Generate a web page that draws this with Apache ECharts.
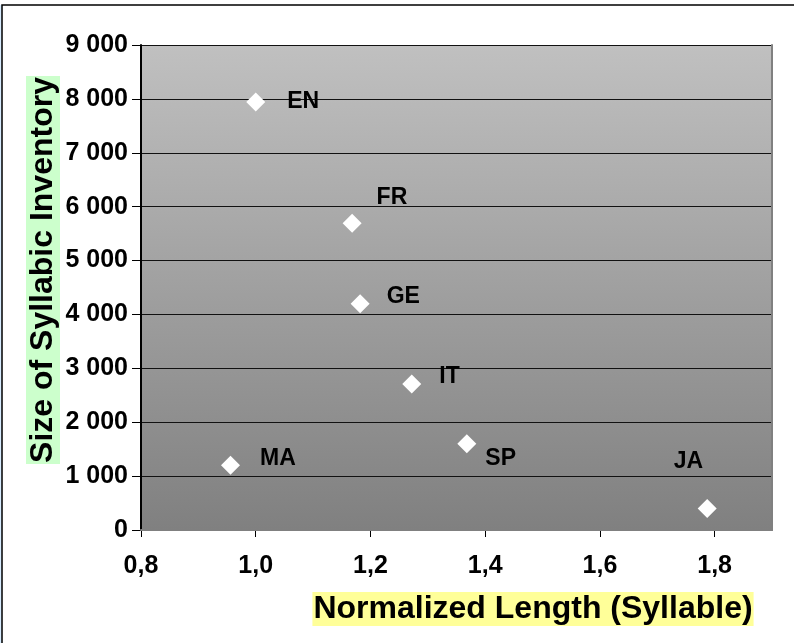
<!DOCTYPE html>
<html>
<head>
<meta charset="utf-8">
<script src="https://cdn.jsdelivr.net/npm/echarts@6/dist/echarts.min.js"></script>
<style>
html, body { margin: 0; padding: 0; background: #fff; }
#syllable_chart { width: 794px; height: 643px; }
</style>
</head>
<body>
<div id="syllable_chart"></div>
<script>
var languages = ['EN', 'FR', 'GE', 'IT', 'SP', 'MA', 'JA'];
var lengths = [1.0, 1.168, 1.182, 1.272, 1.368, 0.956, 1.787];
var inventory = [7940, 5690, 4200, 2710, 1600, 1200, 400];
var xTicks = [0.8, 1.0, 1.2, 1.4, 1.6, 1.8];
var yTicks = [0, 1000, 2000, 3000, 4000, 5000, 6000, 7000, 8000, 9000];
var xTitle = 'Normalized Length (Syllable)';
var yTitle = 'Size of Syllabic Inventory';

// where each data label sits next to its marker (style only)
var labelOffset = {
        EN: [17, 0],
        FR: [10, -26],
        GE: [12, -7],
        IT: [13, -7],
        SP: [4, 15],
        MA: [15, -7],
        JA: [-48, -47]
};

var font = '"Liberation Sans", Arial, sans-serif';

window.onload = function(){
        syllable_chart();
};

function syllable_chart(){

        var chart = echarts.init(document.getElementById('syllable_chart'));

        var points = new Array();
        for (var i = 0; i < languages.length; i++) {
                points.push({
                        name: languages[i],
                        value: [lengths[i], inventory[i]],
                        label: { offset: labelOffset[languages[i]] }
                });
        }

        var option = {
                animation: false,
                textStyle: { fontFamily: font },
                grid: {
                        left: 141, top: 45, right: 22, bottom: 113,
                        show: true,
                        borderWidth: 0,
                        backgroundColor: new echarts.graphic.LinearGradient(0, 0, 0, 1, [
                                { offset: 0, color: '#c0c0c0' },
                                { offset: 1, color: '#808080' }
                        ])
                },
                xAxis: [{
                        type: 'value',
                        position: 'bottom',
                        min: 0.8, max: 1.9, interval: 0.2,
                        axisLine: { show: true, lineStyle: { color: '#000', width: 1.5 } },
                        axisTick: { show: true, customValues: xTicks, length: 7, lineStyle: { color: '#000' } },
                        axisLabel: {
                                customValues: xTicks,
                                margin: 24,
                                color: '#000', fontWeight: 'bold', fontSize: 25, fontFamily: font,
                                formatter: function(v){ return v.toFixed(1).replace('.', ','); }
                        },
                        splitLine: { show: false }
                }, {
                        type: 'value',
                        position: 'top',
                        min: 0.8, max: 1.9,
                        z: 5,
                        axisLine: { show: true, lineStyle: { color: '#808080', width: 2 } },
                        axisTick: { show: false },
                        axisLabel: { show: false },
                        splitLine: { show: false }
                }],
                yAxis: [{
                        type: 'value',
                        position: 'left',
                        min: 0, max: 9000, interval: 1000,
                        axisLine: { show: true, lineStyle: { color: '#000', width: 2 } },
                        axisTick: { show: true, length: 9, lineStyle: { color: '#000' } },
                        axisLabel: {
                                margin: 13,
                                color: '#000', fontWeight: 'bold', fontSize: 25, fontFamily: font,
                                formatter: function(v){
                                        return String(v).replace(/\B(?=(\d{3})+(?!\d))/g, ' ');
                                }
                        },
                        splitLine: { show: true, lineStyle: { color: '#111', width: 1.2 } }
                }, {
                        type: 'value',
                        position: 'right',
                        min: 0, max: 9000,
                        z: 5,
                        axisLine: { show: true, lineStyle: { color: '#808080', width: 2 } },
                        axisTick: { show: false },
                        axisLabel: { show: false },
                        splitLine: { show: false }
                }],
                graphic: [{
                        type: 'rect',
                        z: -10,
                        shape: { x: 0, y: 5, width: 2, height: 640 },
                        style: { fill: '#d8ecff' }
                }, {
                        type: 'rect',
                        z: -10,
                        shape: { x: 2, y: 5, width: 800, height: 700 },
                        style: { fill: '#fff', stroke: '#000', lineWidth: 1.5 }
                }, {
                        type: 'text',
                        x: 43, y: 270,
                        rotation: Math.PI / 2,
                        style: {
                                text: yTitle,
                                fontFamily: font, fontWeight: 'bold', fontSize: 32,
                                fill: '#000',
                                align: 'center', verticalAlign: 'middle',
                                backgroundColor: '#ccffcc',
                                padding: [2, 1, 0, 1]
                        }
                }, {
                        type: 'text',
                        x: 533, y: 609,
                        style: {
                                text: xTitle,
                                fontFamily: font, fontWeight: 'bold', fontSize: 32,
                                fill: '#000',
                                align: 'center', verticalAlign: 'middle',
                                backgroundColor: '#ffff99',
                                padding: [2, 1, 0, 1]
                        }
                }],
                series: [{
                        type: 'scatter',
                        data: points,
                        symbol: 'diamond',
                        symbolSize: 19,
                        itemStyle: { color: '#fff', opacity: 1 },
                        label: {
                                show: true,
                                position: 'right',
                                formatter: '{b}',
                                color: '#000', fontWeight: 'bold', fontSize: 23, fontFamily: font
                        },
                        emphasis: { disabled: true }
                }]
        };
        chart.setOption(option);
}
</script>
</body>
</html>
